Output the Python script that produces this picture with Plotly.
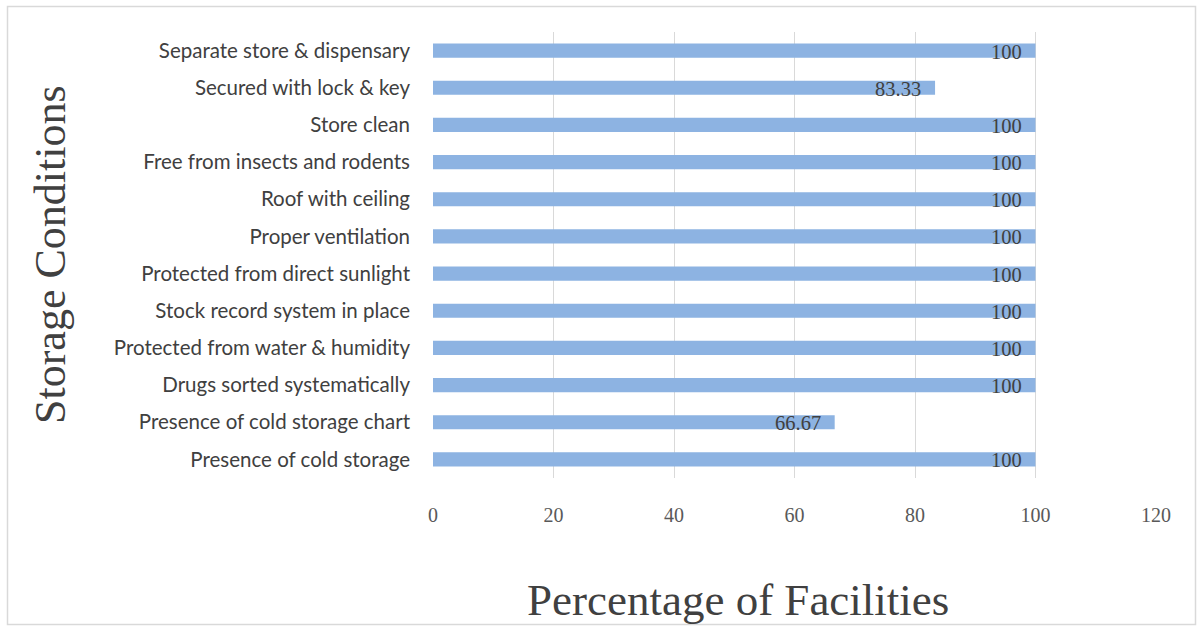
import plotly.graph_objects as go

# Storage conditions, listed bottom to top as drawn on the category axis
conditions = [
    "Presence of cold storage",
    "Presence of cold storage chart",
    "Drugs sorted systematically",
    "Protected from water & humidity",
    "Stock record system in place",
    "Protected from direct sunlight",
    "Proper ventilation",
    "Roof with ceiling",
    "Free from insects and rodents",
    "Store clean",
    "Secured with lock & key",
    "Separate store & dispensary",
]
percent = [100, 66.67, 100, 100, 100, 100, 100, 100, 100, 100, 83.33, 100]
labels = ["100", "66.67", "100", "100", "100", "100", "100", "100", "100", "100", "83.33", "100"]
x_ticks = [0, 20, 40, 60, 80, 100, 120]

W, H = 1197, 626
ML, MR, MT, MB = 433, 41, 32, 148
PW, PH = W - ML - MR, H - MT - MB

fig = go.Figure(
    go.Bar(
        y=conditions,
        x=percent,
        orientation="h",
        width=0.38,
        marker=dict(color="#8db3e2", line=dict(width=0)),
        hoverinfo="x+y",
    )
)

# value labels sitting just inside the end of each bar
value_notes = [
    dict(
        x=v, y=c, xref="x", yref="y",
        text=t, showarrow=False,
        xanchor="right", yanchor="middle",
        xshift=-12, yshift=-1,
        font=dict(family="Liberation Serif", size=20.5, color="#404040"),
    )
    for c, v, t in zip(conditions, percent, labels)
]

fig.update_layout(
    width=W,
    height=H,
    margin=dict(l=ML, r=MR, t=MT, b=MB),
    paper_bgcolor="white",
    plot_bgcolor="white",
    showlegend=False,
    xaxis=dict(
        range=[0, 120],
        tickvals=x_ticks,
        ticktext=[str(v) for v in x_ticks],
        showgrid=True,
        gridcolor="#d9d9d9",
        gridwidth=1,
        zeroline=False,
        showline=False,
        ticks="",
        ticklabelstandoff=23,
        tickfont=dict(family="Liberation Serif", size=20, color="#595959"),
    ),
    yaxis=dict(
        categoryorder="array",
        categoryarray=conditions,
        showgrid=False,
        zeroline=False,
        showline=False,
        ticks="",
        ticklabelstandoff=22,
        tickfont=dict(family="Lato", size=20.5, color="#404040"),
    ),
    annotations=value_notes + [
        dict(
            text="Percentage of Facilities",
            xref="paper", yref="paper",
            x=(738 - ML) / PW,
            y=-(600 - (H - MB)) / PH,
            xanchor="center", yanchor="middle",
            showarrow=False,
            font=dict(family="Liberation Serif", size=45, color="#404040"),
        ),
        dict(
            text="Storage Conditions",
            xref="paper", yref="paper",
            x=-(ML - 50) / PW,
            y=((H - MB) - 255) / PH,
            xanchor="center", yanchor="middle",
            textangle=-90,
            showarrow=False,
            font=dict(family="Liberation Serif", size=44, color="#404040"),
        ),
    ],
    shapes=[
        dict(
            type="rect",
            xref="paper", yref="paper",
            x0=-(ML - 7.5) / PW,
            x1=1 + (1195.5 - (W - MR)) / PW,
            y0=-(624.5 - (H - MB)) / PH,
            y1=1 + (MT - 6.5) / PH,
            line=dict(color="#d9d9d9", width=1.5),
            fillcolor="rgba(0,0,0,0)",
            layer="below",
        )
    ],
)

fig.write_html("out.html")
